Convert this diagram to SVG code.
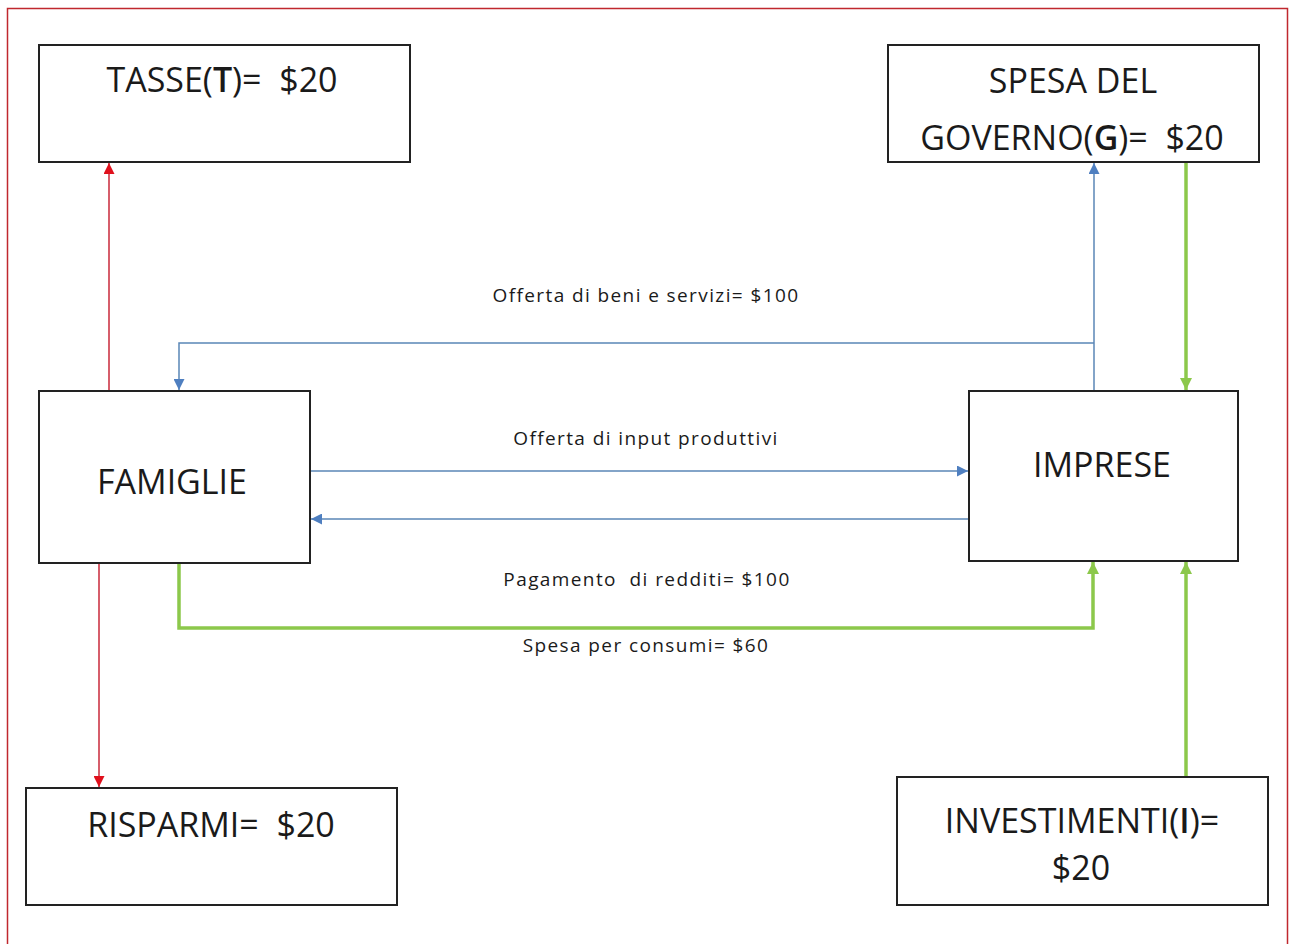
<svg xmlns="http://www.w3.org/2000/svg" width="1290" height="944" viewBox="0 0 1290 944">
<style>
  .box { fill: #ffffff; stroke: #222222; stroke-width: 2; }
  .big { font-family: "Open Sans", "Liberation Sans", sans-serif; font-size: 34px; fill: #1a1a1a; text-anchor: middle; white-space: pre; }
  .lbl { font-family: "Open Sans", "Liberation Sans", sans-serif; font-size: 19px; letter-spacing: 1.4px; fill: #1a1a1a; text-anchor: middle; white-space: pre; }
  .b { font-weight: 600; }
  .blue { fill: none; stroke: #5a86b6; stroke-width: 1.5; }
  .red { fill: none; stroke: #c8283a; stroke-width: 1.5; }
  .green { fill: none; stroke: #8cc84b; stroke-width: 3.5; }
</style>
<defs>
  <marker id="ab" viewBox="0 0 10 10" refX="10" refY="5" markerWidth="11" markerHeight="11" markerUnits="userSpaceOnUse" orient="auto">
    <path d="M0,0 L10,5 L0,10 z" fill="#4f7fc0"/>
  </marker>
  <marker id="ar" viewBox="0 0 10 10" refX="10" refY="5" markerWidth="11" markerHeight="11" markerUnits="userSpaceOnUse" orient="auto">
    <path d="M0,0 L10,5 L0,10 z" fill="#e0101c"/>
  </marker>
  <marker id="ag" viewBox="0 0 10 10" refX="10" refY="5" markerWidth="12" markerHeight="12" markerUnits="userSpaceOnUse" orient="auto">
    <path d="M0,0 L10,5 L0,10 z" fill="#8cc84b"/>
  </marker>
</defs>
<rect x="0" y="0" width="1290" height="944" fill="#ffffff"/>
<path d="M7.5,950 L7.5,8.5 L1287.5,8.5 L1287.5,950" fill="none" stroke="#c0282e" stroke-width="1.5"/>

<g id="connectors">
  <line class="red" x1="109" y1="401" x2="109" y2="163" marker-end="url(#ar)"/>
  <line class="red" x1="99" y1="550" x2="99" y2="787" marker-end="url(#ar)"/>
  <line class="blue" x1="1094" y1="391" x2="1094" y2="163" marker-end="url(#ab)"/>
  <polyline class="blue" points="1094,343 179,343 179,390" marker-end="url(#ab)"/>
  <line class="blue" x1="311" y1="471" x2="968" y2="471" marker-end="url(#ab)"/>
  <line class="blue" x1="969" y1="519" x2="311" y2="519" marker-end="url(#ab)"/>
  <polyline class="green" points="179,563 179,628 1093,628 1093,562" marker-end="url(#ag)"/>
  <line class="green" x1="1186" y1="163" x2="1186" y2="390" marker-end="url(#ag)"/>
  <line class="green" x1="1186" y1="777" x2="1186" y2="562" marker-end="url(#ag)"/>
</g>

<g id="tasse">
  <rect class="box" x="39" y="45" width="371" height="117"/>
  <text class="big" x="222" y="92" xml:space="preserve">TASSE(<tspan class="b">T</tspan>)=  $20</text>
</g>
<g id="governo">
  <rect class="box" x="888" y="45" width="371" height="117"/>
  <text class="big" x="1073" y="93">SPESA DEL</text>
  <text class="big" x="1072" y="150" xml:space="preserve">GOVERNO(<tspan class="b">G</tspan>)=  $20</text>
</g>
<g id="famiglie">
  <rect class="box" x="39" y="391" width="271" height="172"/>
  <text class="big" x="172" y="494">FAMIGLIE</text>
</g>
<g id="imprese">
  <rect class="box" x="969" y="391" width="269" height="170"/>
  <text class="big" x="1102" y="477">IMPRESE</text>
</g>
<g id="risparmi">
  <rect class="box" x="26" y="788" width="371" height="117"/>
  <text class="big" x="211" y="837" xml:space="preserve">RISPARMI=  $20</text>
</g>
<g id="investimenti">
  <rect class="box" x="897" y="777" width="371" height="128"/>
  <text class="big" x="1082" y="833">INVESTIMENTI(<tspan class="b">I</tspan>)=</text>
  <text class="big" x="1081" y="880">$20</text>
</g>

<g id="labels">
  <text class="lbl" x="646" y="302">Offerta di beni e servizi= $100</text>
  <text class="lbl" x="646" y="445">Offerta di input produttivi</text>
  <text class="lbl" x="647" y="586" xml:space="preserve">Pagamento  di redditi= $100</text>
  <text class="lbl" x="646" y="652">Spesa per consumi= $60</text>
</g>
</svg>
